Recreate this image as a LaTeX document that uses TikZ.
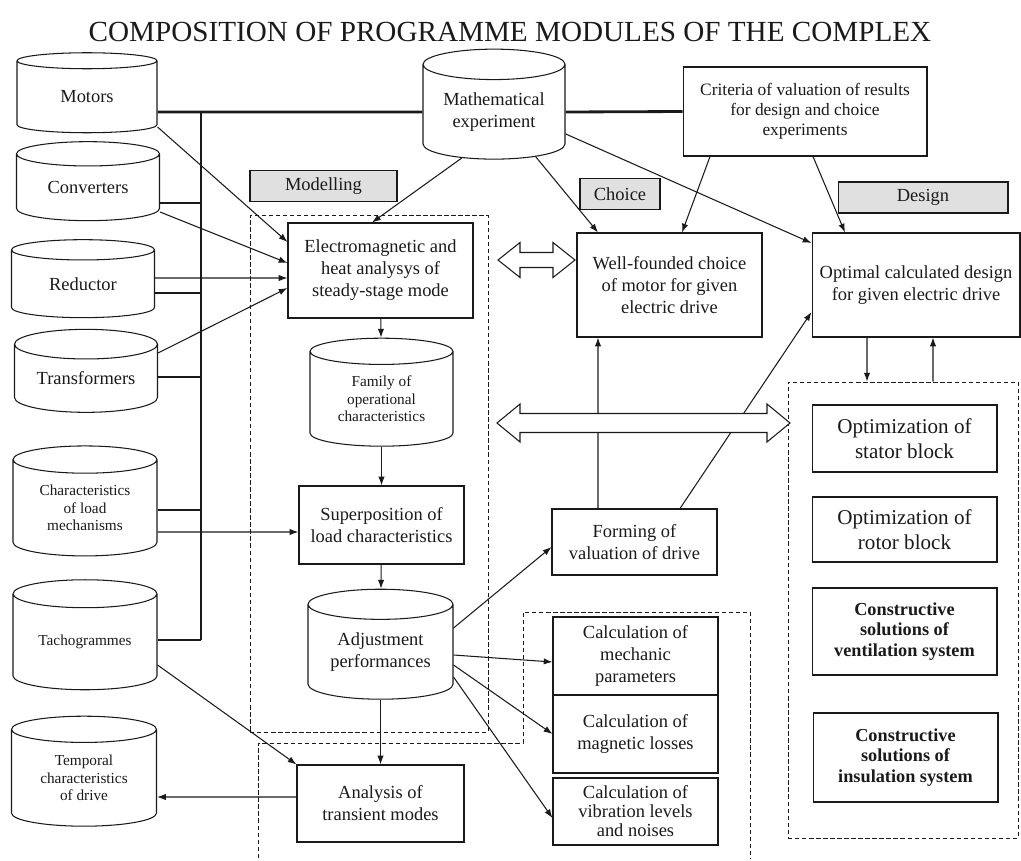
\documentclass[tikz,border=0pt]{standalone}
\usepackage{fontspec}
\setmainfont{Liberation Serif}
\usetikzlibrary{arrows.meta,positioning,shapes.geometric,calc}
\definecolor{ink}{HTML}{1A1A1A}
\definecolor{labelfill}{HTML}{E0E0E0}
\newcommand{\txtnorm}{\fontsize{10.5}{12.5}\selectfont}
\newcommand{\txtsmall}{\fontsize{8.7}{10}\selectfont}
\newcommand{\txtcrit}{\fontsize{9.9}{11.3}\selectfont}
\newcommand{\txtbig}{\fontsize{12}{14}\selectfont}
\newcommand{\txtbold}{\fontsize{10.4}{11.6}\selectfont\bfseries}
\newcommand{\txttitle}{\fontsize{16.6}{20}\selectfont}
% hollow two-way arrow: half length, head length, half head width, half shaft width
\newcommand{\twoway}[4]{(-#1,0) -- (-#1+#2,-#3) -- (-#1+#2,-#4) -- (#1-#2,-#4) -- (#1-#2,-#3) -- (#1,0)
  -- (#1-#2,#3) -- (#1-#2,#4) -- (-#1+#2,#4) -- (-#1+#2,#3) -- cycle}

\begin{document}
\begin{tikzpicture}[x=0.02cm, y=-0.02cm, every node/.style={font=\txtnorm, text=ink},
  box/.style={rectangle, draw=ink, line width=0.6pt, align=center, inner sep=1pt},
  cyl/.style={cylinder, shape border rotate=90, aspect=0.3, draw=ink, line width=0.6pt, align=center, inner sep=0pt},
  lab/.style={rectangle, draw=ink, fill=labelfill, line width=0.6pt, minimum height=0.62cm},
  region/.style={rectangle, draw=ink, dash pattern=on 2.5pt off 1.5pt, line width=0.5pt},
  arrow/.style={-{Latex[length=5pt,width=3.6pt]}, line width=0.6pt, color=ink},
  bus/.style={line width=1.6pt, color=ink},
  dbl/.style={draw=ink, fill=white, line width=0.6pt, line join=miter},
]
\useasboundingbox (0,0) rectangle (1021,860);

% Title
\node[font=\txttitle] (title) at (510,32) {COMPOSITION OF PROGRAMME MODULES OF THE COMPLEX};

% Dashed regions
\node[region, minimum width=4.76cm, minimum height=10.34cm] (modreg) at (369,473.5) {};
\node[region, minimum width=4.6cm, minimum height=9.12cm] (designreg) at (903,610) {};
\draw[region] (258,858) -- (258,743) -- (523,743) -- (523,612) -- (750,612) -- (750,858);

% Data bases on the left
\node[cyl, minimum width=2.8cm, minimum height=1.6cm] (motors) at (87,97) {Motors};
\node[cyl, minimum width=2.86cm, minimum height=1.58cm] (converters) at (88,187.5) {Converters};
\node[cyl, minimum width=2.86cm, minimum height=1.56cm] (reductor) at (83,284) {Reductor};
\node[cyl, minimum width=2.86cm, minimum height=1.66cm] (transformers) at (86,378.5) {Transformers};
\node[cyl, font=\txtsmall, minimum width=2.88cm, minimum height=2.2cm] (loadchar) at (85,508) {Characteristics\\of load\\mechanisms};
\node[cyl, font=\txtsmall, minimum width=2.88cm, minimum height=2.2cm] (tacho) at (85,642) {Tachogrammes};
\node[cyl, font=\txtsmall, minimum width=2.9cm, minimum height=2.2cm] (temporal) at (84,778) {Temporal\\characteristics\\of drive};

% Modelling column
\node[cyl, minimum width=2.84cm, minimum height=2.2cm] (math) at (494,112) {Mathematical\\experiment};
\node[box, minimum width=3.7cm, minimum height=1.9cm] (emag) at (380.5,270.5) {Electromagnetic and\\heat analysys of\\steady-stage mode};
\node[cyl, font=\txtsmall, minimum width=2.86cm, minimum height=2.16cm] (family) at (381.5,399) {Family of\\operational\\characteristics};
\node[box, minimum width=3.3cm, minimum height=1.56cm] (superpos) at (381.5,525) {Superposition of\\load characteristics};
\node[cyl, minimum width=2.9cm, minimum height=2.2cm] (adjust) at (380.5,652) {Adjustment\\performances};
\node[box, minimum width=3.34cm, minimum height=1.54cm] (analysis) at (380.5,803.5) {Analysis of\\transient modes};

% Choice and design
\node[box, font=\txtcrit, minimum width=4.88cm, minimum height=1.78cm] (criteria) at (805,111.5) {Criteria of valuation of results\\for design and choice\\experiments};
\node[box, minimum width=3.7cm, minimum height=2.08cm] (choice) at (669.5,285) {Well-founded choice\\of motor for given\\electric drive};
\node[box, inner sep=0.5pt, minimum width=4.16cm, minimum height=2.08cm] (design) at (916,285) {Optimal calculated design\\for given electric drive};
\node[box, minimum width=3.3cm, minimum height=1.32cm] (forming) at (634.5,542) {Forming of\\valuation of drive};

% Calculation blocks
\node[box, minimum width=3.3cm, minimum height=1.56cm] (calcmech) at (635.5,656) {Calculation of\\mechanic\\parameters};
\node[box, minimum width=3.3cm, minimum height=1.56cm] (calcmag) at (635.5,734) {Calculation of\\magnetic losses};
\node[box, font=\fontsize{10.5}{10.8}\selectfont, minimum width=3.3cm, minimum height=1.34cm] (calcvib) at (635.5,811.5) {Calculation of\\vibration levels\\and noises};

% Design blocks
\node[box, font=\txtbig, minimum width=3.7cm, minimum height=1.34cm] (stator) at (904.5,438.5) {Optimization of\\stator block};
\node[box, font=\txtbig, minimum width=3.7cm, minimum height=1.3cm] (rotor) at (904.5,529.5) {Optimization of\\rotor block};
\node[box, font=\txtbold, minimum width=3.7cm, minimum height=1.74cm] (vent) at (904.5,631.5) {Constructive\\solutions of\\ventilation system};
\node[box, font=\txtbold, minimum width=3.7cm, minimum height=1.78cm] (insul) at (905.5,757.5) {Constructive\\solutions of\\insulation system};

% Labels
\node[lab, minimum width=2.94cm] (modlab) at (323.5,186) {Modelling};
\node[lab, minimum width=1.6cm] (choicelab) at (620,194) {Choice};
\node[lab, minimum width=3.4cm] (designlab) at (923,197.5) {Design};

% Bus
\coordinate (bustop) at (201,112);
\coordinate (busbot) at (201,640);
\draw[bus] (bustop) -- (busbot);
\draw[bus] (motors.east |- bustop) -- (math.west);
\draw[bus] (math.east) -- (criteria.west);
\foreach \n/\s in {converters/-0.31, reductor/-0.18, transformers/0.03, loadchar/-0.04, tacho/0.04} {
  \path ([yshift=\s cm]\n.east) coordinate (\n bus);
  \draw[bus] (\n bus) -- (\n bus -| bustop);
}

% Inputs of the modelling
\draw[arrow] ([yshift=-0.6cm]motors.east) -- ([yshift=0.57cm]emag.west);
\draw[arrow] ([yshift=-0.49cm]converters.east) -- ([yshift=0.15cm]emag.west);
\draw[arrow] ([yshift=0.12cm]reductor.east) -- ([yshift=-0.15cm]emag.west);
\draw[arrow] ([yshift=0.51cm]transformers.east) -- ([yshift=-0.35cm]emag.west);
\draw[arrow] ([yshift=-0.48cm]loadchar.east) -- ([yshift=-0.14cm]superpos.west);
\draw[arrow] ([yshift=-0.46cm]tacho.east) -- (analysis.north west);
\draw[arrow] ([yshift=0.13cm]analysis.west) -- ([yshift=-0.38cm]temporal.east);

% From experiment and criteria
\draw[arrow] (math.235) -- ([xshift=-0.17cm]emag.north);
\draw[arrow] (math.313) -- ([xshift=-1.43cm]choice.north);
\draw[arrow] (math.-17) -- ([yshift=0.84cm]design.west);
\draw[arrow] ([xshift=-1.9cm]criteria.south) -- ([xshift=0.25cm]choice.north);
\draw[arrow] ([xshift=0.16cm]criteria.south) -- ([xshift=-1.42cm]design.north);

% Modelling chain
\draw[arrow] (emag) -- (family);
\draw[arrow] (family) -- (superpos);
\draw[arrow] (superpos) -- (adjust);
\draw[arrow] (adjust) -- (analysis);

% Outputs of adjustment
\draw[arrow] ([yshift=0.48cm]adjust.east) -- ([yshift=-0.1cm]forming.west);
\draw[arrow] ([yshift=-0.06cm]adjust.east) -- ([yshift=-0.12cm]calcmech.west);
\draw[arrow] ([yshift=-0.26cm]adjust.east) -- (calcmag.west);
\draw[arrow] ([yshift=-0.5cm]adjust.east) -- ([yshift=-0.13cm]calcvib.west);

% Valuation
\draw[arrow] ([xshift=-0.73cm]forming.north) -- ([xshift=-1.43cm]choice.south);
\draw[arrow] ([xshift=0.91cm]forming.north) -- ([yshift=-0.54cm]design.west);

% Design loop
\draw[arrow] ([xshift=-0.98cm]design.south) -- ([xshift=-0.72cm]designreg.north);
\draw[arrow] ([xshift=0.6cm]designreg.north) -- ([xshift=0.34cm]design.south);

% Exchange arrows
\coordinate (dblA) at (536.5,260);
\coordinate (dblB) at (643.5,423);
\draw[dbl, shift={(dblA)}] \twoway{38.5}{22}{17.5}{7.5};
\draw[dbl, shift={(dblB)}] \twoway{146.5}{23}{19}{9.5};

\end{tikzpicture}
\end{document}
